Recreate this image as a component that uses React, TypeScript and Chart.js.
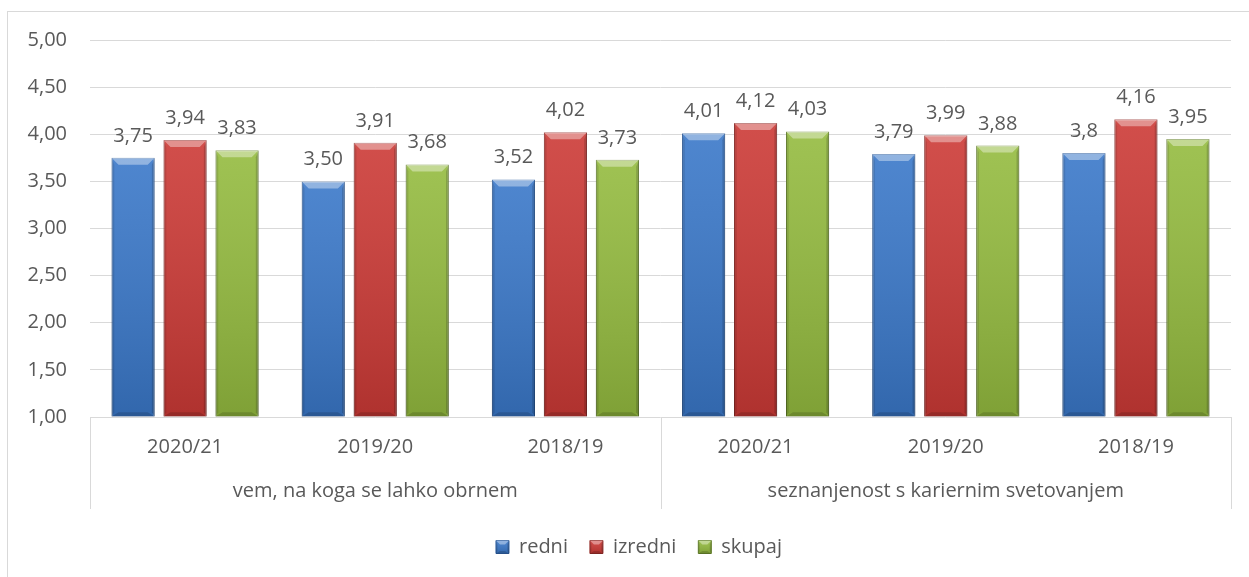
import React, { useEffect, useRef } from "react";
import { Chart, registerables } from "chart.js";

Chart.register(...registerables);

const categories = ["2020/21", "2019/20", "2018/19", "2020/21", "2019/20", "2018/19"];
const groups = ["vem, na koga se lahko obrnem", "seznanjenost s kariernim svetovanjem"];
const groupSizes = [3, 3];

const seriesNames = ["redni", "izredni", "skupaj"];
const redni = [3.75, 3.5, 3.52, 4.01, 3.79, 3.8];
const izredni = [3.94, 3.91, 4.02, 4.12, 3.99, 4.16];
const skupaj = [3.83, 3.68, 3.73, 4.03, 3.88, 3.95];
const redniLabels = ["3,75", "3,50", "3,52", "4,01", "3,79", "3,8"];
const izredniLabels = ["3,94", "3,91", "4,02", "4,12", "3,99", "4,16"];
const skupajLabels = ["3,83", "3,68", "3,73", "4,03", "3,88", "3,95"];

const yMin = 1;
const yMax = 5;
const yStep = 0.5;

const FONT = "'Open Sans', sans-serif";
const FS = 20;
const TEXT = "#595959";
const GRID = "#d9d9d9";

const fills = ["#3a78c9", "#cc3a36", "#94bb3f"];
const borders = ["#2b5c9e", "#922a27", "#65832a"];

const valueLabels = [redniLabels, izredniLabels, skupajLabels];

const LEGEND_CENTER = 639;

const framePlugin = {
  id: "frame",
  beforeDraw(chart: any) {
    const ctx = chart.ctx;
    ctx.save();
    ctx.fillStyle = "#ffffff";
    ctx.fillRect(0, 0, chart.width, chart.height);
    ctx.strokeStyle = GRID;
    ctx.lineWidth = 1;
    ctx.strokeRect(7.5, 11.5, chart.width + 40, chart.height + 40);
    ctx.restore();
    const lg = chart.legend;
    if (lg) {
      const shift = LEGEND_CENTER - (lg.left + lg.right) / 2;
      lg.left += shift;
      lg.right += shift;
      chart.$legendShift = (chart.$legendShift || 0) + shift;
    }
  },
};

function bevelRect(ctx: any, l: number, t: number, r: number, b: number, bv: number) {
  const g = ctx.createLinearGradient(0, t, 0, b);
  g.addColorStop(0, "rgba(255,255,255,0.10)");
  g.addColorStop(1, "rgba(0,0,0,0.14)");
  ctx.fillStyle = g;
  ctx.fillRect(l, t, r - l, b - t);
  ctx.beginPath();
  ctx.moveTo(l, t);
  ctx.lineTo(r, t);
  ctx.lineTo(r - bv, t + bv);
  ctx.lineTo(l + bv, t + bv);
  ctx.closePath();
  ctx.fillStyle = "rgba(255,255,255,0.38)";
  ctx.fill();
  ctx.beginPath();
  ctx.moveTo(l, t);
  ctx.lineTo(l + bv * 0.4, t + bv);
  ctx.lineTo(l + bv * 0.4, b - bv * 0.6);
  ctx.lineTo(l, b);
  ctx.closePath();
  ctx.fillStyle = "rgba(0,0,0,0.10)";
  ctx.fill();
  ctx.beginPath();
  ctx.moveTo(r, t);
  ctx.lineTo(r - bv * 0.4, t + bv);
  ctx.lineTo(r - bv * 0.4, b - bv * 0.6);
  ctx.lineTo(r, b);
  ctx.closePath();
  ctx.fillStyle = "rgba(0,0,0,0.16)";
  ctx.fill();
  ctx.beginPath();
  ctx.moveTo(l, b);
  ctx.lineTo(r, b);
  ctx.lineTo(r - bv, b - bv * 0.6);
  ctx.lineTo(l + bv, b - bv * 0.6);
  ctx.closePath();
  ctx.fillStyle = "rgba(0,0,0,0.15)";
  ctx.fill();
}

const bevelPlugin = {
  id: "bevel",
  afterDatasetsDraw(chart: any) {
    const ctx = chart.ctx;
    ctx.save();
    chart.getSortedVisibleDatasetMetas().forEach((meta: any) => {
      meta.data.forEach((el: any) => {
        const { x, y, base, width } = el.getProps(["x", "y", "base", "width"], true);
        const t = Math.min(y, base);
        const b = Math.min(Math.max(y, base), chart.chartArea.bottom);
        bevelRect(ctx, x - width / 2, t, x + width / 2, b, Math.min(7, width / 4));
      });
    });
    ctx.restore();
  },
};

const labelsPlugin = {
  id: "valueLabels",
  afterDatasetsDraw(chart: any) {
    const ctx = chart.ctx;
    ctx.save();
    ctx.font = `${FS}px ${FONT}`;
    ctx.fillStyle = TEXT;
    ctx.textAlign = "center";
    ctx.textBaseline = "alphabetic";
    chart.getSortedVisibleDatasetMetas().forEach((meta: any) => {
      const texts = valueLabels[meta.index];
      meta.data.forEach((el: any, i: number) => {
        const { x, y } = el.getProps(["x", "y"], true);
        ctx.fillText(texts[i], x, y - 16);
      });
    });
    ctx.restore();
  },
};

const groupAxisPlugin = {
  id: "groupAxis",
  afterDraw(chart: any) {
    const xs = chart.scales.x;
    const ctx = chart.ctx;
    const top = xs.top;
    const bottom = top + 92;
    const bounds: number[] = [xs.left];
    let idx = 0;
    groupSizes.forEach((n, gi) => {
      idx += n;
      if (gi < groupSizes.length - 1) {
        bounds.push((xs.getPixelForValue(idx - 1) + xs.getPixelForValue(idx)) / 2);
      }
    });
    bounds.push(xs.right);
    ctx.save();
    ctx.strokeStyle = GRID;
    ctx.lineWidth = 1;
    bounds.forEach((bx) => {
      const px = Math.round(bx) + 0.5;
      ctx.beginPath();
      ctx.moveTo(px, top);
      ctx.lineTo(px, bottom);
      ctx.stroke();
    });
    ctx.font = `${FS}px ${FONT}`;
    ctx.fillStyle = TEXT;
    ctx.textAlign = "center";
    ctx.textBaseline = "alphabetic";
    groups.forEach((g, gi) => {
      ctx.fillText(g, (bounds[gi] + bounds[gi + 1]) / 2, top + 80);
    });
    ctx.restore();
    const lg = chart.legend;
    if (lg && lg.legendHitBoxes) {
      const shift = chart.$legendShift || 0;
      ctx.save();
      lg.legendHitBoxes.forEach((hb: any) => {
        const bw = lg.options.labels.boxWidth;
        const bh = lg.options.labels.boxHeight;
        const l = hb.left + shift;
        const t = hb.top + (hb.height - bh) / 2;
        bevelRect(ctx, l, t, l + bw, t + bh, 4);
      });
      ctx.restore();
    }
  },
};

export default function App() {
  const ref = useRef<HTMLCanvasElement | null>(null);
  useEffect(() => {
    if (!ref.current) return;
    const data = [redni, izredni, skupaj];
    const chart = new Chart(ref.current, {
      type: "bar",
      data: {
        labels: categories,
        datasets: seriesNames.map((name, i) => ({
          label: name,
          data: data[i],
          base: yMin,
          backgroundColor: fills[i],
          borderColor: borders[i],
          borderWidth: 1,
          categoryPercentage: 0.82,
          barPercentage: 0.83,
        })),
      },
      options: {
        responsive: false,
        maintainAspectRatio: false,
        animation: false,
        layout: { padding: { left: 20, right: 18, top: 40, bottom: 10 } },
        plugins: {
          tooltip: { enabled: false },
          legend: {
            position: "bottom",
            align: "center",
            labels: {
              boxWidth: 13,
              boxHeight: 13,
              padding: 22,
              color: TEXT,
              font: { family: FONT, size: FS },
            },
          },
        },
        scales: {
          x: {
            grid: { display: false, drawTicks: false },
            border: { display: false },
            ticks: {
              color: TEXT,
              font: { family: FONT, size: FS },
              padding: 18,
              maxRotation: 0,
              autoSkip: false,
            },
            afterFit: (s: any) => {
              s.height = 98;
            },
          },
          y: {
            min: yMin,
            max: yMax,
            grid: { color: GRID, drawTicks: false },
            border: { display: false },
            ticks: {
              stepSize: yStep,
              color: TEXT,
              font: { family: FONT, size: FS },
              padding: 23,
              callback: (v: any) => Number(v).toFixed(2).replace(".", ","),
            },
            afterFit: (s: any) => {
              s.width = 70;
            },
          },
        },
      },
      plugins: [framePlugin, bevelPlugin, labelsPlugin, groupAxisPlugin],
    });
    return () => chart.destroy();
  }, []);
  return (
    <div style={{ position: "fixed", left: 0, top: 0, width: 1249, height: 577, background: "#fff" }}>
      <canvas ref={ref} width={1249} height={577} style={{ display: "block", width: 1249, height: 577 }} />
    </div>
  );
}
